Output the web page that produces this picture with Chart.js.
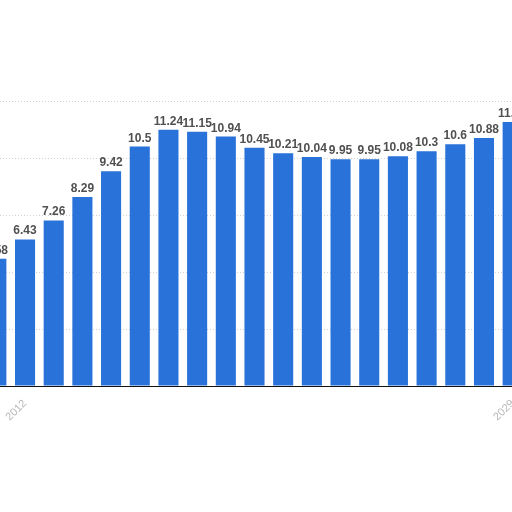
<!DOCTYPE html>
<html>
<head>
<meta charset="utf-8">
<script src="https://cdn.jsdelivr.net/npm/chart.js@4"></script>
<style>
  html, body { margin: 0; padding: 0; background: #fff; overflow: hidden; width: 512px; height: 512px; }
  #myChart { position: absolute; left: -18px; top: 0; }
</style>
</head>
<body>
<canvas id="myChart" width="545" height="512"></canvas>
<script>
var years = ["2011","2012","2013","2014","2015","2016","2017","2018","2019","2020",
             "2021","2022","2023","2024","2025","2026","2027","2028","2029"];
var values = [5.58, 6.43, 7.26, 8.29, 9.42, 10.5, 11.24, 11.15, 10.94, 10.45,
              10.21, 10.04, 9.95, 9.95, 10.08, 10.3, 10.6, 10.88, 11.58];
var shownYears = ["2012", "2029"];

var ctx = document.getElementById('myChart').getContext("2d");

// value labels above each bar
var barLabels = {
    id: 'barLabels',
    afterDatasetsDraw: function(chart) {
        var c = chart.ctx;
        var meta = chart.getDatasetMeta(0);
        c.save();
        c.font = "bold 12px 'Liberation Sans', Arial, sans-serif";
        c.fillStyle = "#505050";
        c.textAlign = "center";
        c.textBaseline = "alphabetic";
        meta.data.forEach(function(bar, i) {
            c.fillText(String(values[i]), bar.x, bar.y - 5);
        });
        c.restore();
    }
};

var myGraph = new Chart(ctx, {
    type: "bar",
    data: {
        labels: years,
        datasets: [{
            data: values,
            backgroundColor: "#2872d9",
            barPercentage: 0.7,
            categoryPercentage: 1
        }]
    },
    options: {
        responsive: false,
        animation: false,
        layout: { padding: { top: 101, left: 0, right: 0, bottom: 0 } },
        scales: {
            x: {
                grid: { display: false },
                border: { color: "#111", width: 1 },
                ticks: {
                    autoSkip: false,
                    minRotation: 45,
                    maxRotation: 45,
                    color: "#b8b8b8",
                    font: { size: 11, family: "'Liberation Sans', Arial, sans-serif" },
                    callback: function(val, i) {
                        return shownYears.indexOf(years[i]) >= 0 ? years[i] : "";
                    }
                },
                afterFit: function(s) { s.height = 126; }
            },
            y: {
                min: 0,
                max: 12.5,
                ticks: { display: false, stepSize: 2.5 },
                grid: { color: "#d0d0d0", drawTicks: false },
                border: { display: false, dash: [1, 2] },
                afterFit: function(s) { s.width = 0; }
            }
        },
        plugins: {
            legend: { display: false },
            tooltip: { enabled: false }
        }
    },
    plugins: [barLabels]
});
</script>
</body>
</html>
